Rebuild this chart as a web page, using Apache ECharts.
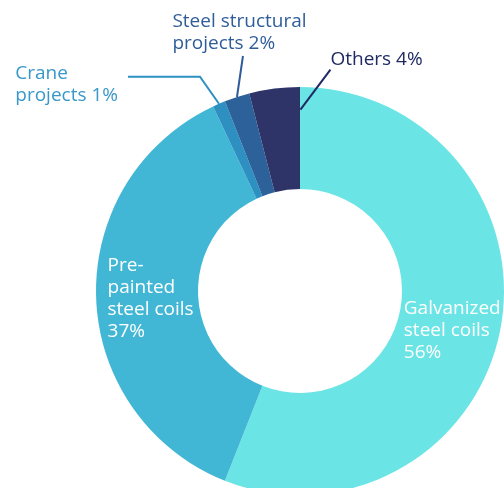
<!DOCTYPE html>
<html>
<head>
<meta charset="utf-8">
<script src="https://cdn.jsdelivr.net/npm/echarts@6/dist/echarts.min.js"></script>
<style>
  html, body { margin: 0; padding: 0; background: #ffffff; }
  #chart { width: 504px; height: 488px; }
</style>
</head>
<body>
<div id="chart"></div>
<script>
// Sales breakdown by product line (share of total, %)
const categories = [
  'Galvanized steel coils',
  'Pre-painted steel coils',
  'Crane projects',
  'Steel structural projects',
  'Others'
];
const shares = [56, 37, 1, 2, 4];
// How each category name is broken across lines in its label
const labelNames = [
  ['Galvanized', 'steel coils'],
  ['Pre-', 'painted', 'steel coils'],
  ['Crane', 'projects'],
  ['Steel structural', 'projects'],
  ['Others']
];
const sliceColors = ['#6be4e6', '#42b7d5', '#2e8fc1', '#2d6199', '#2e3468'];
const textColors = ['#ffffff', '#ffffff', '#3898c9', '#2e5d9a', '#1f2a64'];
const lineColors = [null, null, '#2e8fc1', '#2e5d9a', '#1f2a64'];
const insideLabel = [true, true, false, false, false];

const FONT = '"Open Sans", "Noto Sans", sans-serif';
const FONT_SIZE = 19;
const FONT_WEIGHT = 500;
const LINE_H = 22;

const CENTER = [300, 291];
const RADIUS = [102, 204];

function labelText(i) {
  const lines = labelNames[i].slice();
  if (insideLabel[i]) {
    lines.push(shares[i] + '%');
  } else {
    lines[lines.length - 1] += ' ' + shares[i] + '%';
  }
  return lines.map(l => '{t|' + l + '}').join('\n');
}

// Coloured ring
const sliceData = categories.map((name, i) => ({
  name: name,
  value: shares[i],
  itemStyle: { color: sliceColors[i] }
}));

// Same ring, transparent, drawn on top so its labels and leader lines
// sit above every slice
const labelData = categories.map((name, i) => ({
  name: name,
  value: shares[i],
  itemStyle: { color: 'rgba(0,0,0,0)' },
  label: {
    position: insideLabel[i] ? 'inside' : 'outside',
    formatter: labelText(i),
    opacity: 1,
    rich: {
      t: {
        align: 'left',
        color: textColors[i],
        fontFamily: FONT,
        fontSize: FONT_SIZE,
        fontWeight: FONT_WEIGHT,
        lineHeight: LINE_H
      }
    }
  },
  labelLine: {
    show: !insideLabel[i],
    lineStyle: { color: lineColors[i] || '#000', width: 2, opacity: 1 }
  }
}));

// Places the text blocks and bends the leader lines, starting from the
// point on the outer rim that ECharts computes for each slice.
function placeLabel(params) {
  const i = params.dataIndex;
  const r = params.labelRect;
  const cx = r.x + r.width / 2;
  const cy = r.y + r.height / 2;
  const pts = params.labelLinePoints;
  if (i === 0) {
    return { x: cx - 1, y: cy + 10, align: 'center', verticalAlign: 'middle' };
  }
  if (i === 1) {
    return { x: cx + 6.5, y: cy + 3, align: 'center', verticalAlign: 'middle' };
  }
  if (!pts) return {};
  const p0 = pts[0];
  if (i === 2) {
    const bend = [p0[0] - 19, p0[1] - 27];
    const end = [bend[0] - 72, bend[1]];
    return {
      x: end[0] - 10, y: end[1] + 8,
      align: 'right', verticalAlign: 'middle',
      labelLinePoints: [p0, bend, end]
    };
  }
  if (i === 3) {
    const end = [p0[0] + 6, p0[1] - 41];
    const mid = [(p0[0] + end[0]) / 2, (p0[1] + end[1]) / 2];
    return {
      x: end[0] - 3.5, y: end[1] - 1,
      align: 'center', verticalAlign: 'bottom',
      labelLinePoints: [p0, mid, end]
    };
  }
  if (i === 4) {
    const start = [p0[0] + 26, p0[1] + 21];
    const end = [start[0] + 30, start[1] - 40];
    const mid = [(start[0] + end[0]) / 2, (start[1] + end[1]) / 2];
    return {
      x: end[0], y: end[1] - 10,
      align: 'left', verticalAlign: 'middle',
      labelLinePoints: [start, mid, end]
    };
  }
  return {};
}

const chart = echarts.init(document.getElementById('chart'), null, { renderer: 'canvas' });
chart.setOption({
  animation: false,
  backgroundColor: '#ffffff',
  series: [
    {
      type: 'pie',
      z: 2,
      center: CENTER,
      radius: RADIUS,
      startAngle: 90,
      clockwise: true,
      label: { show: false },
      labelLine: { show: false },
      itemStyle: { borderWidth: 0 },
      emphasis: { disabled: true },
      silent: true,
      data: sliceData
    },
    {
      type: 'pie',
      z: 3,
      center: CENTER,
      radius: RADIUS,
      startAngle: 90,
      clockwise: true,
      avoidLabelOverlap: false,
      label: {
        show: true,
        overflow: 'none',
        fontFamily: FONT,
        fontSize: FONT_SIZE
      },
      labelLine: { length: 20, length2: 20 },
      labelLayout: placeLabel,
      itemStyle: { borderWidth: 0 },
      emphasis: { disabled: true },
      silent: true,
      data: labelData
    }
  ]
});
</script>
</body>
</html>
